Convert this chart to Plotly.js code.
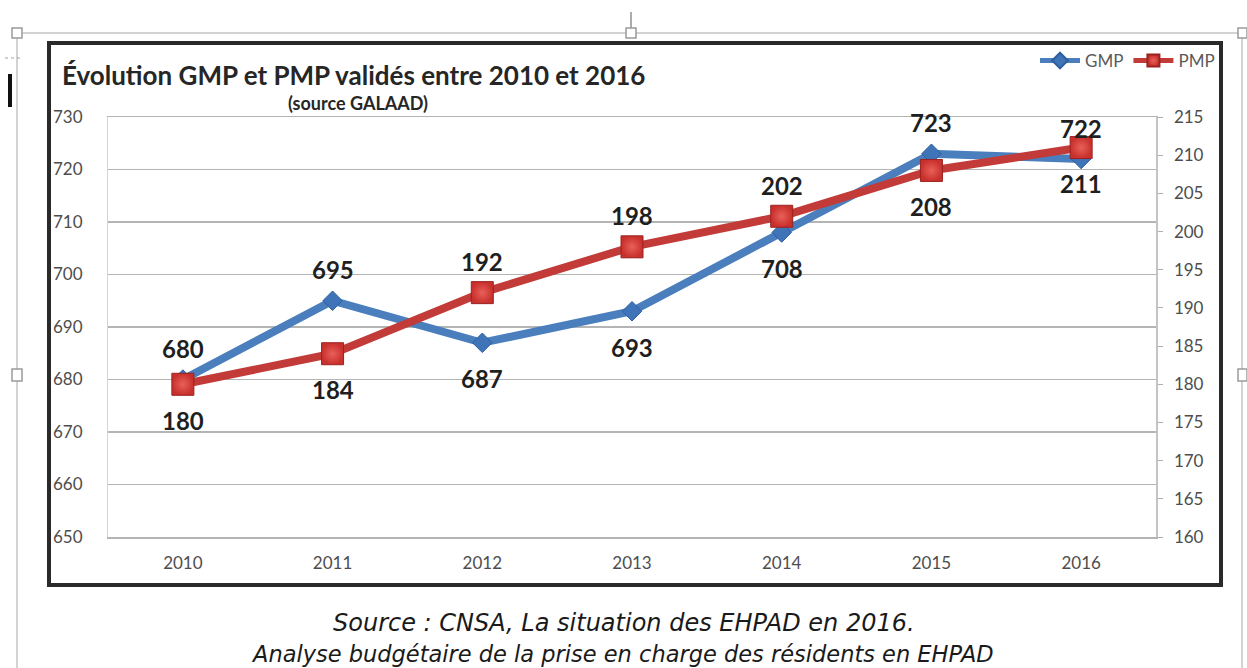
<!DOCTYPE html>
<html>
<head>
<meta charset="utf-8">
<script src="https://cdn.plot.ly/plotly-3.0.1.min.js"></script>
<style>html,body{margin:0;padding:0;background:#fff;}#chart{width:1247px;height:668px;}</style>
</head>
<body>
<div id="chart"></div>
<script>
// ---- data ----
var years = ['2010', '2011', '2012', '2013', '2014', '2015', '2016'];
var gmp = [680, 695, 687, 693, 708, 723, 722];
var pmp = [180, 184, 192, 198, 202, 208, 211];
var gmpLabelSide = ['up', 'up', 'down', 'down', 'down', 'up', 'up'];
var pmpLabelSide = ['down', 'down', 'up', 'up', 'up', 'down', 'down'];
var leftTicks = [650, 660, 670, 680, 690, 700, 710, 720, 730];
var rightTicks = [160, 165, 170, 175, 180, 185, 190, 195, 200, 205, 210, 215];
var titleText = 'Évolution GMP et PMP validés entre 2010 et 2016';
var subtitleText = '(source GALAAD)';
var captionLine1 = 'Source : CNSA, La situation des EHPAD en 2016.';
var captionLine2 = 'Analyse budgétaire de la prise en charge des résidents en EHPAD';

// ---- geometry helpers (pixel -> paper) ----
var ML = 108, MR = 1247 - 1156, MT = 117, MB = 668 - 537;
var PW = 1247 - ML - MR, PH = 668 - MT - MB;
function px(x) { return (x - ML) / PW; }
function py(y) { return (668 - MB - y) / PH; }

var CHART_FONT = 'Lato, "Open Sans", sans-serif';
var BLUE = '#4a7ebd', RED = '#c23b38';

var traces = [
  {
    x: years, y: gmp, name: 'GMP', type: 'scatter', mode: 'lines+markers',
    line: {color: BLUE, width: 8},
    marker: {symbol: 'diamond', size: 15, color: '#3f74b8', line: {color: '#2e5f9e', width: 1}},
    yaxis: 'y', hoverinfo: 'x+y'
  },
  {
    x: years, y: pmp, name: 'PMP', type: 'scatter', mode: 'lines+markers',
    line: {color: RED, width: 8},
    marker: {symbol: 'square', size: 22, color: '#c8302c', gradient: {type: 'radial', color: '#e9605a'}, line: {color: '#9a2220', width: 1}},
    yaxis: 'y2', hoverinfo: 'x+y'
  }
];

var annotations = [];
function addLabels(vals, sides, yref) {
  for (var i = 0; i < vals.length; i++) {
    annotations.push({
      x: i, y: vals[i], xref: 'x', yref: yref, showarrow: false,
      xanchor: 'center', yanchor: 'middle',
      text: String(vals[i]), yshift: sides[i] === 'up' ? 31 : -36,
      font: {family: CHART_FONT, size: 24, color: '#1f1f1f', weight: 700}
    });
  }
}
addLabels(gmp, gmpLabelSide, 'y');
addLabels(pmp, pmpLabelSide, 'y2');

annotations.push({
  xref: 'paper', yref: 'paper', x: px(358), y: py(103), showarrow: false,
  xanchor: 'center', yanchor: 'middle',
  text: subtitleText, font: {family: CHART_FONT, size: 18, color: '#262626', weight: 700}
});
annotations.push({
  xref: 'paper', yref: 'paper', x: px(624), y: py(623), showarrow: false,
  xanchor: 'center', yanchor: 'middle', text: captionLine1,
  font: {family: '"DejaVu Sans", Verdana, sans-serif', size: 24, color: '#1a1a1a', style: 'italic'}
});
annotations.push({
  xref: 'paper', yref: 'paper', x: px(622), y: py(654), showarrow: false,
  xanchor: 'center', yanchor: 'middle', text: captionLine2,
  font: {family: '"DejaVu Sans", Verdana, sans-serif', size: 22.5, color: '#1a1a1a', style: 'italic'}
});

function rectPx(x0, y0, x1, y1, opts) {
  return Object.assign({type: 'rect', xref: 'paper', yref: 'paper', x0: px(x0), x1: px(x1), y0: py(y0), y1: py(y1), layer: 'below'}, opts);
}
function linePx(x0, y0, x1, y1, opts) {
  return Object.assign({type: 'line', xref: 'paper', yref: 'paper', x0: px(x0), x1: px(x1), y0: py(y0), y1: py(y1), layer: 'below'}, opts);
}
var selGray = '#c4c4c4';
var shapes = [
  // selection frame
  linePx(17, 33, 1247, 33, {line: {color: selGray, width: 1.5}}),
  linePx(17, 33, 17, 668, {line: {color: selGray, width: 1.5}}),
  linePx(1242, 33, 1242, 668, {line: {color: selGray, width: 1.5}}),
  linePx(631, 12, 631, 28, {line: {color: '#909090', width: 1.5}}),
  linePx(5, 58, 20, 58, {line: {color: '#a0a0a0', width: 1, dash: 'dot'}}),
  // cursor bar
  rectPx(8, 74, 12, 107, {fillcolor: '#111', line: {width: 0}}),
  // chart frame
  rectPx(49, 43, 1221, 585, {fillcolor: 'rgba(0,0,0,0)', line: {color: '#2a2a2a', width: 4}}),
  // handles
  rectPx(12, 28, 22, 38, {fillcolor: '#fff', line: {color: '#9a9a9a', width: 1.5}, layer: 'above'}),
  rectPx(626, 28, 636, 38, {fillcolor: '#fff', line: {color: '#9a9a9a', width: 1.5}, layer: 'above'}),
  rectPx(1238, 28, 1247, 38, {fillcolor: '#fff', line: {color: '#9a9a9a', width: 1.5}, layer: 'above'}),
  rectPx(12, 369, 22, 381, {fillcolor: '#fff', line: {color: '#9a9a9a', width: 1.5}, layer: 'above'}),
  rectPx(1238, 369, 1247, 381, {fillcolor: '#fff', line: {color: '#9a9a9a', width: 1.5}, layer: 'above'})
];

var tickFont = {family: CHART_FONT, size: 17, color: '#4d4d4d'};

var layout = {
  width: 1247, height: 668,
  margin: {l: ML, r: MR, t: MT, b: MB, pad: 0},
  paper_bgcolor: '#fff', plot_bgcolor: '#fff',
  showlegend: true,
  title: {
    text: titleText, xref: 'container', yref: 'container',
    x: 62 / 1247, y: 1 - 76 / 668, xanchor: 'left', yanchor: 'middle',
    font: {family: CHART_FONT, size: 26, color: '#262626', weight: 700}
  },
  xaxis: {
    type: 'category', categoryorder: 'array', categoryarray: years,
    range: [-0.5, 6.5], showgrid: false, zeroline: false,
    showline: true, linecolor: '#b4b4b4', linewidth: 1.5, mirror: true,
    ticks: '', ticklabelstandoff: 10, tickfont: tickFont, fixedrange: true
  },
  yaxis: {
    range: [650, 730], tickvals: leftTicks, showgrid: true, gridcolor: '#b4b4b4', gridwidth: 1.5,
    zeroline: false, showline: true, linecolor: '#d4d4d4', linewidth: 1,
    ticks: '', ticklabelstandoff: 21, tickfont: tickFont, fixedrange: true
  },
  yaxis2: {
    overlaying: 'y', side: 'right', range: [160, 215], tickvals: rightTicks,
    showgrid: false, zeroline: false, showline: true, linecolor: '#c4c4c4', linewidth: 1.5,
    ticks: 'outside', ticklen: 5, tickcolor: '#b0b0b0', tickwidth: 1,
    ticklabelstandoff: 8, tickfont: tickFont, fixedrange: true
  },
  legend: {
    orientation: 'h', x: px(1220), xanchor: 'right', y: py(61), yanchor: 'middle',
    bgcolor: 'rgba(0,0,0,0)', font: {family: CHART_FONT, size: 17, color: '#5a5a5a'},
    itemsizing: 'constant', itemwidth: 40, tracegroupgap: 0
  },
  annotations: annotations,
  shapes: shapes
};

Plotly.newPlot('chart', traces, layout, {displayModeBar: false, staticPlot: true});
</script>
</body>
</html>
